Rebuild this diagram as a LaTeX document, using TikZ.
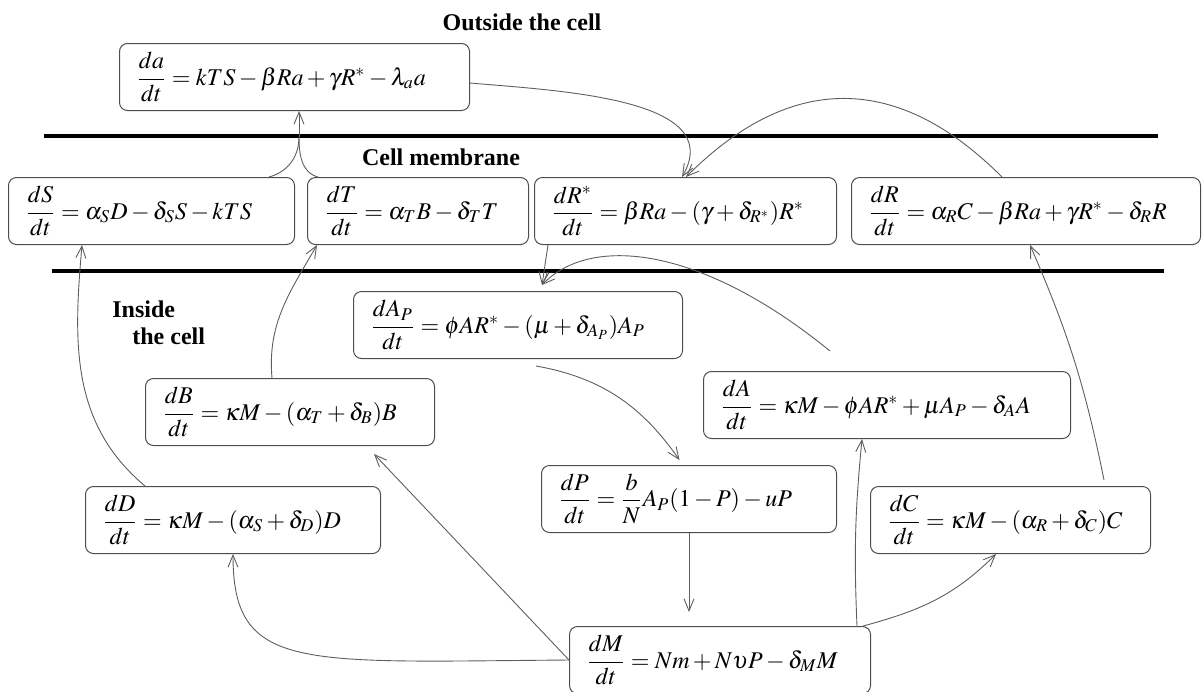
\documentclass[tikz,border=0pt]{standalone}
\usepackage{amsmath}
\usepackage{mathptmx}
\usepackage{fontspec}
\setmainfont{Liberation Serif}
\usepackage{tikz}
\usetikzlibrary{arrows.meta,calc}
\definecolor{BoxLine}{HTML}{4D4D4D}
\definecolor{LinkLine}{HTML}{5E5E5E}
\newcommand{\rateeq}[2]{\mbox{$\dfrac{d#1}{dt} = #2$}}

\begin{document}
\begin{tikzpicture}[
x=0.5pt,y=0.5pt,
eqbox/.style={draw=BoxLine,line width=0.5pt,rounded corners=4pt,anchor=north west,align=left,inner xsep=8.5pt,inner ysep=0pt,minimum height=33.5pt,text width=#1,font=\fontsize{12}{14}\selectfont},
region/.style={font=\fontsize{12}{13.5}\selectfont\bfseries,inner sep=0pt},
membrane/.style={line width=2.2pt,draw=black},
arrow/.style={-{Straight Barb[length=6pt,width=5pt]},line width=0.45pt,draw=LinkLine},
link/.style={line width=0.45pt,draw=LinkLine}
]
\useasboundingbox (0,0) rectangle (1202,-691);

% compartments
\node[region] (outside) at (522,-22) {Outside the cell};
\node[region] (membrane) at (441,-157) {Cell membrane};
\node[region,align=left,anchor=north west] (inside) at (112,-300) {Inside\\\hspace{10pt}the cell};
\draw[membrane] (44,-136) -- (1158,-136);
\draw[membrane] (52,-271) -- (1164,-271);

% equations
\node[eqbox=158pt] (eqa) at (119,-43) {\rateeq{a}{kTS - \beta Ra + \gamma R^{*} - \lambda_a a}};
\node[eqbox=126pt] (eqS) at (8,-177) {\rateeq{S}{\alpha_S D - \delta_S S - kTS}};
\node[eqbox=93.5pt] (eqT) at (307,-177) {\rateeq{T}{\alpha_T B - \delta_T T}};
\node[eqbox=134pt] (eqRs) at (534,-177) {\rateeq{R^{*}}{\beta Ra - (\gamma + \delta_{R^{*}})R^{*}}};
\node[eqbox=157.5pt] (eqR) at (851,-177) {\rateeq{R}{\alpha_R C - \beta Ra + \gamma R^{*} - \delta_R R}};
\node[eqbox=147.5pt] (eqAp) at (353,-291) {\rateeq{A_P}{\phi AR^{*} - (\mu + \delta_{A_P})A_P}};
\node[eqbox=127.5pt] (eqB) at (145,-378) {\rateeq{B}{\kappa M - (\alpha_T + \delta_B)B}};
\node[eqbox=166.5pt] (eqA) at (703,-371) {\rateeq{A}{\kappa M - \phi AR^{*} + \mu A_P - \delta_A A}};
\node[eqbox=130.5pt] (eqP) at (541,-465) {\rateeq{P}{\dfrac{b}{N}A_P(1-P) - uP}};
\node[eqbox=130.5pt] (eqD) at (85,-486) {\rateeq{D}{\kappa M - (\alpha_S + \delta_D)D}};
\node[eqbox=123pt] (eqC) at (870,-486) {\rateeq{C}{\kappa M - (\alpha_R + \delta_C)C}};
\node[eqbox=133.5pt] (eqM) at (569,-626) {\rateeq{M}{Nm + N\upsilon P - \delta_M M}};

\coordinate (mj) at (299,-137);
\coordinate (apin) at ([xshift=94.5pt,yshift=3pt]eqAp.north west);

% transport across the membrane
\draw[link] ([xshift=-13pt]eqS.north east) to[out=15,in=-90] (mj);
\draw[link] ([xshift=5.5pt]eqT.north west) to[out=165,in=-90] (mj);
\draw[arrow] (mj) -- (mj |- eqa.south);
\draw[arrow] ([yshift=-3pt]eqa.east) to[out=-5,in=60] ([xshift=74pt]eqRs.north west);
\draw[arrow] ([xshift=75.5pt]eqR.north west) to[out=135,in=45,looseness=1.2] ([xshift=76pt]eqRs.north west);
\draw[arrow] ([xshift=7pt]eqRs.south west) -- (apin);
\draw[arrow] ([xshift=63.5pt,yshift=10pt]eqA.north west) .. controls +(-130,106) and +(48,50) .. (apin);
\draw[arrow] ([xshift=30pt]eqD.north west) to[out=140,in=-95] ([xshift=37pt]eqS.south west);
\draw[arrow] ([xshift=63.5pt]eqB.north west) to[out=95,in=-120] ([xshift=5pt]eqT.south west);
\draw[arrow] ([xshift=-23.5pt,yshift=3pt]eqC.north east) to[bend right=6] ([xshift=89.5pt]eqR.south west);

% inside the cell
\draw[arrow,shorten >=3pt] ([xshift=9pt,yshift=-3.5pt]eqAp.south) to[out=-10,in=125] ([xshift=-3pt]eqP.north);
\draw[arrow,shorten >=7pt] (eqP.south) -- (eqP.south |- eqM.north);
\draw[arrow] (eqM.west) .. controls +(-269,-2) and +(0,-118) .. (eqD.south);
\draw[arrow] (eqM.west) -- ([xshift=-30.5pt,yshift=-4pt]eqB.south east);
\draw[arrow] ([xshift=-7pt]eqM.north east) to[bend left=4] ([xshift=79.5pt]eqA.south west);
\draw[arrow] ([xshift=-4pt]eqM.north east) to[out=15,in=-135] ([xshift=63pt]eqC.south west);
\end{tikzpicture}
\end{document}
